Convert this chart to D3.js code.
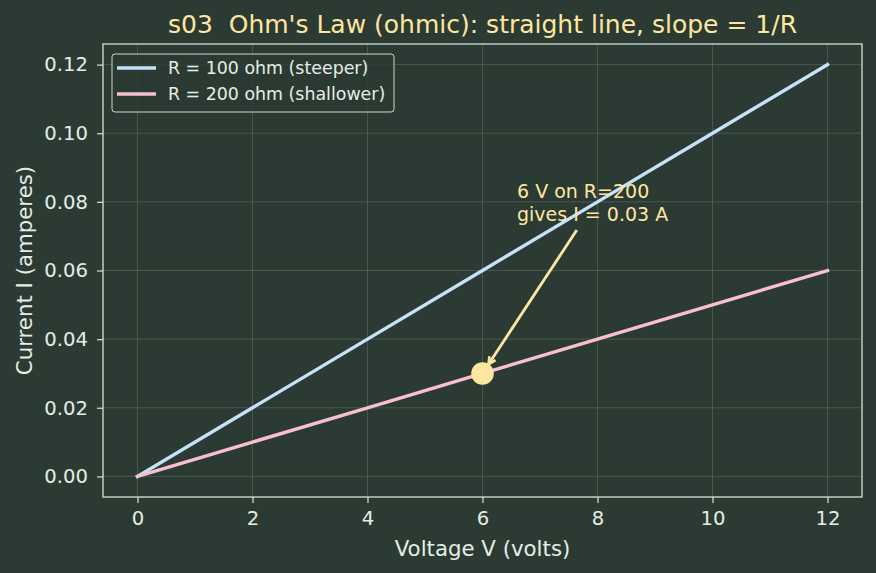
<!DOCTYPE html>
<html>
<head>
<meta charset="utf-8">
<script src="https://cdn.jsdelivr.net/npm/d3@7"></script>
<style>
  html, body { margin: 0; padding: 0; background: #2b3b33; }
  text { font-family: "DejaVu Sans", sans-serif; white-space: pre; }
</style>
</head>
<body>
<div id="container"></div>
<script>
// Data
const voltages = [0, 2, 4, 6, 8, 10, 12];
const current100 = [0, 0.02, 0.04, 0.06, 0.08, 0.10, 0.12];
const current200 = [0, 0.01, 0.02, 0.03, 0.04, 0.05, 0.06];
const xTicks = [0, 2, 4, 6, 8, 10, 12];
const yTicks = [0, 0.02, 0.04, 0.06, 0.08, 0.10, 0.12];
const seriesNames = ["R = 100 ohm (steeper)", "R = 200 ohm (shallower)"];
const marked = { v: 6, i: 0.03 };
const noteLines = ["6 V on R=200", "gives I = 0.03 A"];
const noteText = { v: 6.6, i: 0.0811 };
const arrowFrom = { v: 7.64, i: 0.0718 };

const width = 876, height = 573;
const margin = { top: 44, right: 14, bottom: 76, left: 103 };

const fg = "#e6ede6";
const spine = "#c9d8cd";
const gold = "#ffe6a0";
const colors = ["#c6e2fb", "#f9bfd0"];

const svg = d3.select("#container").append("svg")
    .attr("width", width)
    .attr("height", height);

svg.append("rect").attr("width", width).attr("height", height).attr("fill", "#2b3b33");

const x = d3.scaleLinear().domain([-0.6, 12.6]).range([margin.left, width - margin.right]);
const y = d3.scaleLinear().domain([-0.006, 0.126]).range([height - margin.bottom, margin.top]);

// grid
const grid = svg.append("g").attr("stroke", "#8aa596").attr("stroke-opacity", 0.28).attr("stroke-width", 1);
grid.selectAll(".gx").data(xTicks).join("line")
    .attr("x1", d => x(d)).attr("x2", d => x(d))
    .attr("y1", margin.top).attr("y2", height - margin.bottom);
grid.selectAll(".gy").data(yTicks).join("line")
    .attr("y1", d => y(d)).attr("y2", d => y(d))
    .attr("x1", margin.left).attr("x2", width - margin.right);

// axes
const xAxis = svg.append("g")
    .attr("transform", `translate(0,${height - margin.bottom})`)
    .call(d3.axisBottom(x).tickValues(xTicks).tickFormat(d3.format("d")).tickSize(6).tickPadding(8.5).tickSizeOuter(0));
const yAxis = svg.append("g")
    .attr("transform", `translate(${margin.left},0)`)
    .call(d3.axisLeft(y).tickValues(yTicks).tickFormat(d3.format(".2f")).tickSize(6).tickPadding(9).tickSizeOuter(0));
[xAxis, yAxis].forEach(a => {
  a.select(".domain").remove();
  a.selectAll(".tick line").attr("stroke", spine).attr("stroke-width", 1.3);
  a.selectAll(".tick text").attr("fill", fg).attr("font-size", 19.6).attr("font-family", "DejaVu Sans");
});

// spines
svg.append("rect")
    .attr("x", margin.left).attr("y", margin.top)
    .attr("width", width - margin.left - margin.right)
    .attr("height", height - margin.top - margin.bottom)
    .attr("fill", "none").attr("stroke", spine).attr("stroke-width", 1.4);

// lines
const line = d3.line().x((d, i) => x(voltages[i])).y(d => y(d));
[current100, current200].forEach((s, k) => {
  svg.append("path").datum(s)
      .attr("d", line)
      .attr("fill", "none")
      .attr("stroke", colors[k])
      .attr("stroke-width", 3.4)
      .attr("stroke-linecap", "square");
});

// marked point
const px = x(marked.v), py = y(marked.i);
svg.append("circle")
    .attr("cx", px).attr("cy", py).attr("r", 11.3)
    .attr("fill", gold);

// annotation arrow
svg.append("defs").append("marker")
    .attr("id", "arr").attr("viewBox", "0 0 10 10")
    .attr("refX", 9).attr("refY", 5)
    .attr("markerWidth", 9).attr("markerHeight", 9)
    .attr("markerUnits", "userSpaceOnUse")
    .attr("orient", "auto")
    .append("path").attr("d", "M1,1 L9,5 L1,9").attr("fill", "none")
    .attr("stroke", gold).attr("stroke-width", 3).attr("stroke-linejoin", "miter");

const sx = x(arrowFrom.v), sy = y(arrowFrom.i);
const ang = Math.atan2(py - sy, px - sx);
svg.append("line")
    .attr("x1", sx).attr("y1", sy)
    .attr("x2", px - Math.cos(ang) * 11).attr("y2", py - Math.sin(ang) * 11)
    .attr("stroke", gold).attr("stroke-width", 2.8)
    .attr("marker-end", "url(#arr)");

const note = svg.append("text")
    .attr("x", x(noteText.v)).attr("y", y(noteText.i))
    .attr("fill", gold).attr("font-size", 19);
noteLines.forEach((t, i) => note.append("tspan").attr("x", x(noteText.v)).attr("dy", i ? 23 : 0).text(t));

// labels
svg.append("text")
    .attr("x", (margin.left + width - margin.right) / 2).attr("y", 33)
    .attr("text-anchor", "middle").attr("fill", gold).attr("font-size", 25)
    .text("s03  Ohm's Law (ohmic): straight line, slope = 1/R");
svg.append("text")
    .attr("x", (margin.left + width - margin.right) / 2).attr("y", 556)
    .attr("text-anchor", "middle").attr("fill", fg).attr("font-size", 21.3)
    .text("Voltage V (volts)");
svg.append("text")
    .attr("transform", `translate(31.5,${(margin.top + height - margin.bottom) / 2}) rotate(-90)`)
    .attr("text-anchor", "middle").attr("fill", fg).attr("font-size", 21.3)
    .text("Current I (amperes)");

// legend
const lg = svg.append("g").attr("transform", `translate(${margin.left + 9},${margin.top + 10})`);
lg.append("rect").attr("width", 282).attr("height", 58).attr("rx", 3)
    .attr("fill", "#2b3b33").attr("fill-opacity", 0.8)
    .attr("stroke", spine).attr("stroke-width", 1);
seriesNames.forEach((n, i) => {
  const yy = 14 + i * 26;
  lg.append("line").attr("x1", 5).attr("x2", 44).attr("y1", yy).attr("y2", yy)
      .attr("stroke", colors[i]).attr("stroke-width", 3.4);
  lg.append("text").attr("x", 56).attr("y", yy + 6)
      .attr("fill", fg).attr("font-size", 17.4).text(n);
});
</script>
</body>
</html>
